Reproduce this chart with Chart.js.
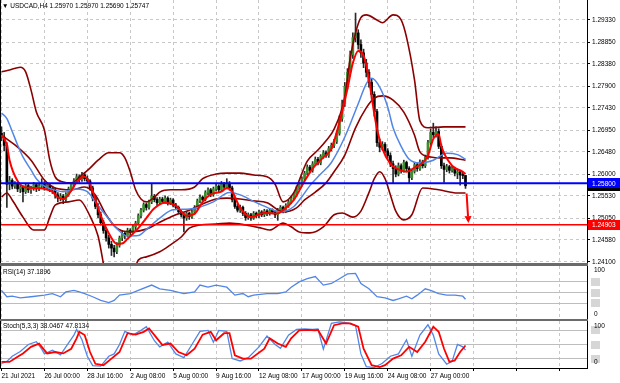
<!DOCTYPE html>
<html><head><meta charset="utf-8">
<script src="https://cdn.jsdelivr.net/npm/chart.js@4.4.1/dist/chart.umd.min.js"></script>
<style>
body{margin:0;background:#fff;}
#wrap{position:relative;width:620px;height:383px;overflow:hidden;background:#fff;font-family:"Liberation Sans",Arial,sans-serif;}
canvas{position:absolute;left:0;display:block;}
.lbl{position:absolute;font-size:6.5px;color:#000;white-space:nowrap;line-height:8px;}
.sep{position:absolute;left:0;background:#6b6b6b;}
</style></head><body>
<div id="wrap">
<canvas id="cMain" width="620" height="266" style="top:0"></canvas>
<div class="sep" style="top:263px;height:3px;width:588px"></div>
<canvas id="cRsi" width="620" height="53" style="top:266px"></canvas>
<div class="sep" style="top:319px;height:2px;width:588px"></div>
<canvas id="cSto" width="620" height="62" style="top:321px"></canvas>
<div class="lbl" id="tMain" style="left:2px;top:2px"></div>
<div class="lbl" id="tRsi" style="left:3px;top:268px"></div>
<div class="lbl" id="tSto" style="left:3px;top:322px"></div>
<div class="lbl" id="rsiTop" style="left:594px;top:266px"></div>
<div class="lbl" id="rsiBot" style="left:594px;top:310px"></div>
<div class="lbl" id="stoTop" style="left:594px;top:322px"></div>
<div class="lbl" id="stoBot" style="left:594px;top:358px"></div>
</div>
<script>
// ---------------- DATA ----------------
const mainTitle = '\u25BC USDCAD,H4 1.25970 1.25970 1.25690 1.25747';
const rsiTitle = 'RSI(14) 37.1896';
const stochTitle = 'Stoch(5,3,3) 38.0467 47.8134';
const panelTopLabel = '100';
const panelBotLabel = '0';

// H4 candles [open, high, low, close], bar index = position in array
const ohlc = [
[1.2688,1.2702,1.2672,1.2680],[1.2680,1.2690,1.2650,1.2662],[1.2662,1.2668,1.2528,1.2578],[1.2578,1.2595,1.2566,1.2586],
[1.2586,1.2590,1.2568,1.2574],[1.2574,1.2584,1.2569,1.2580],[1.2580,1.2582,1.2562,1.2568],[1.2568,1.2578,1.2560,1.2572],
[1.2572,1.2575,1.2540,1.2562],[1.2562,1.2580,1.2558,1.2575],[1.2575,1.2578,1.2560,1.2566],[1.2566,1.2574,1.2558,1.2570],
[1.2570,1.2582,1.2565,1.2577],[1.2577,1.2580,1.2562,1.2568],[1.2568,1.2579,1.2564,1.2574],[1.2574,1.2590,1.2570,1.2580],
[1.2580,1.2584,1.2565,1.2571],[1.2571,1.2582,1.2567,1.2576],[1.2576,1.2580,1.2562,1.2569],[1.2569,1.2574,1.2558,1.2566],
[1.2566,1.2570,1.2548,1.2555],[1.2555,1.2560,1.2540,1.2548],[1.2548,1.2558,1.2542,1.2552],[1.2552,1.2556,1.2536,1.2545],
[1.2545,1.2560,1.2541,1.2556],[1.2556,1.2572,1.2552,1.2568],[1.2568,1.2582,1.2563,1.2578],[1.2578,1.2590,1.2572,1.2585],
[1.2585,1.2600,1.2580,1.2594],[1.2594,1.2598,1.2582,1.2588],[1.2588,1.2604,1.2584,1.2598],[1.2598,1.2602,1.2585,1.2590],
[1.2590,1.2596,1.2580,1.2585],[1.2585,1.2588,1.2565,1.2570],[1.2570,1.2574,1.2542,1.2548],[1.2548,1.2552,1.2525,1.2530],
[1.2530,1.2536,1.2506,1.2512],[1.2512,1.2518,1.2490,1.2495],[1.2495,1.2500,1.2472,1.2478],[1.2478,1.2484,1.2455,1.2462],
[1.2462,1.2468,1.2440,1.2448],[1.2448,1.2455,1.2424,1.2440],[1.2440,1.2446,1.2421,1.2432],[1.2432,1.2452,1.2428,1.2446],
[1.2446,1.2466,1.2442,1.2462],[1.2462,1.2478,1.2456,1.2472],[1.2472,1.2476,1.2460,1.2468],[1.2468,1.2483,1.2464,1.2478],
[1.2478,1.2482,1.2466,1.2474],[1.2474,1.2490,1.2470,1.2486],[1.2486,1.2498,1.2480,1.2494],[1.2494,1.2514,1.2490,1.2510],
[1.2510,1.2526,1.2505,1.2522],[1.2522,1.2538,1.2518,1.2534],[1.2534,1.2537,1.2522,1.2528],[1.2528,1.2544,1.2524,1.2540],
[1.2540,1.2578,1.2536,1.2552],[1.2552,1.2556,1.2540,1.2545],[1.2545,1.2549,1.2532,1.2538],[1.2538,1.2550,1.2534,1.2546],
[1.2546,1.2550,1.2536,1.2541],[1.2541,1.2553,1.2537,1.2548],[1.2548,1.2551,1.2533,1.2538],[1.2538,1.2548,1.2534,1.2544],
[1.2544,1.2547,1.2529,1.2533],[1.2533,1.2537,1.2523,1.2528],[1.2528,1.2531,1.2514,1.2519],[1.2519,1.2523,1.2507,1.2512],
[1.2512,1.2516,1.2475,1.2505],[1.2505,1.2519,1.2500,1.2515],[1.2515,1.2518,1.2502,1.2508],[1.2508,1.2522,1.2504,1.2518],
[1.2518,1.2532,1.2514,1.2528],[1.2528,1.2546,1.2524,1.2542],[1.2542,1.2555,1.2538,1.2550],[1.2550,1.2553,1.2540,1.2545],
[1.2545,1.2564,1.2542,1.2560],[1.2560,1.2570,1.2555,1.2566],[1.2566,1.2569,1.2551,1.2556],[1.2556,1.2572,1.2552,1.2568],
[1.2568,1.2580,1.2563,1.2574],[1.2574,1.2577,1.2562,1.2566],[1.2566,1.2584,1.2562,1.2578],[1.2578,1.2582,1.2567,1.2572],
[1.2572,1.2590,1.2568,1.2580],[1.2580,1.2584,1.2565,1.2570],[1.2570,1.2574,1.2540,1.2545],[1.2545,1.2549,1.2526,1.2530],
[1.2530,1.2535,1.2518,1.2522],[1.2522,1.2533,1.2517,1.2528],[1.2528,1.2531,1.2510,1.2515],[1.2515,1.2519,1.2500,1.2506],
[1.2506,1.2516,1.2502,1.2512],[1.2512,1.2515,1.2500,1.2505],[1.2505,1.2519,1.2502,1.2515],[1.2515,1.2518,1.2505,1.2510],
[1.2510,1.2522,1.2506,1.2518],[1.2518,1.2521,1.2508,1.2512],[1.2512,1.2524,1.2508,1.2520],[1.2520,1.2523,1.2510,1.2515],
[1.2515,1.2526,1.2511,1.2522],[1.2522,1.2525,1.2514,1.2518],[1.2518,1.2521,1.2506,1.2512],[1.2512,1.2526,1.2500,1.2522],
[1.2522,1.2532,1.2518,1.2528],[1.2528,1.2531,1.2516,1.2520],[1.2520,1.2536,1.2517,1.2532],[1.2532,1.2544,1.2528,1.2540],
[1.2540,1.2552,1.2536,1.2548],[1.2548,1.2560,1.2544,1.2556],[1.2556,1.2574,1.2552,1.2570],[1.2570,1.2582,1.2566,1.2578],
[1.2578,1.2594,1.2574,1.2590],[1.2590,1.2606,1.2586,1.2602],[1.2602,1.2620,1.2598,1.2615],[1.2615,1.2619,1.2603,1.2608],
[1.2608,1.2627,1.2604,1.2622],[1.2622,1.2637,1.2618,1.2632],[1.2632,1.2636,1.2620,1.2624],[1.2624,1.2642,1.2620,1.2638],
[1.2638,1.2651,1.2634,1.2646],[1.2646,1.2650,1.2636,1.2640],[1.2640,1.2660,1.2636,1.2655],[1.2655,1.2667,1.2650,1.2662],
[1.2662,1.2675,1.2657,1.2670],[1.2670,1.2693,1.2666,1.2688],[1.2688,1.2726,1.2684,1.2720],[1.2720,1.2760,1.2714,1.2752],
[1.2752,1.2798,1.2746,1.2790],[1.2790,1.2828,1.2784,1.2820],[1.2820,1.2866,1.2812,1.2858],[1.2858,1.2905,1.2850,1.2895],
[1.2895,1.2948,1.2886,1.2905],[1.2905,1.2912,1.2870,1.2880],[1.2880,1.2890,1.2852,1.2862],[1.2862,1.2870,1.2830,1.2840],
[1.2840,1.2848,1.2810,1.2820],[1.2820,1.2826,1.2788,1.2798],[1.2798,1.2805,1.2762,1.2772],[1.2772,1.2778,1.2725,1.2735],
[1.2735,1.2740,1.2660,1.2668],[1.2668,1.2676,1.2648,1.2658],[1.2658,1.2670,1.2652,1.2664],[1.2664,1.2668,1.2645,1.2650],
[1.2650,1.2655,1.2634,1.2640],[1.2640,1.2646,1.2616,1.2622],[1.2622,1.2628,1.2581,1.2612],[1.2612,1.2618,1.2594,1.2600],
[1.2600,1.2624,1.2596,1.2618],[1.2618,1.2622,1.2602,1.2608],[1.2608,1.2630,1.2604,1.2625],[1.2625,1.2628,1.2606,1.2612],
[1.2612,1.2616,1.2580,1.2592],[1.2592,1.2610,1.2588,1.2606],[1.2606,1.2625,1.2602,1.2620],[1.2620,1.2624,1.2606,1.2612],
[1.2612,1.2631,1.2608,1.2626],[1.2626,1.2630,1.2613,1.2618],[1.2618,1.2641,1.2614,1.2636],[1.2636,1.2673,1.2632,1.2668],
[1.2668,1.2697,1.2663,1.2690],[1.2690,1.2710,1.2678,1.2685],[1.2685,1.2702,1.2680,1.2692],[1.2692,1.2698,1.2655,1.2660],
[1.2660,1.2665,1.2612,1.2618],[1.2618,1.2624,1.2582,1.2610],[1.2610,1.2621,1.2605,1.2616],[1.2616,1.2619,1.2602,1.2608],
[1.2608,1.2617,1.2604,1.2612],[1.2612,1.2615,1.2596,1.2602],[1.2602,1.2610,1.2590,1.2605],[1.2605,1.2608,1.2576,1.2598],
[1.2598,1.2604,1.2590,1.2597],[1.25970,1.25970,1.25690,1.25747]
];

// indicator lines: [bar, value]
const redMA = [[0,1.2684],[2,1.2663],[3,1.2630],[6,1.2585],[9,1.2571],[13,1.2570],[16,1.2568],[19,1.2562],[21,1.2550],[23,1.2546],[26,1.2564],[28,1.2582],[31,1.2594],[33,1.2578],[35,1.2545],[37,1.2510],[41,1.2462],[43,1.2449],[45,1.2450],[47,1.2460],[51,1.2483],[54,1.2505],[57,1.2526],[61,1.2538],[65,1.2532],[69,1.2510],[72,1.2514],[75,1.2540],[78,1.2556],[82,1.2562],[84,1.2570],[86,1.2562],[89,1.2527],[93,1.2507],[98,1.2516],[103,1.2515],[105,1.2522],[109,1.2544],[113,1.2585],[116,1.2612],[120,1.2636],[123,1.2655],[126,1.2712],[129,1.2785],[131,1.2840],[133,1.2866],[135,1.2856],[137,1.2805],[139,1.2730],[140,1.2698],[142,1.2655],[145,1.2622],[148,1.2610],[151,1.2605],[154,1.2614],[156,1.2620],[159,1.2640],[161,1.2676],[163,1.2686],[164,1.2660],[168,1.2618],[172,1.2605],[173,1.2600]];
const blueMA = [[0,1.2732],[2,1.2720],[4,1.2692],[6,1.2663],[8,1.2637],[11,1.2609],[13,1.2590],[16,1.2574],[19,1.2567],[23,1.2562],[28,1.2568],[32,1.2562],[36,1.2532],[40,1.2503],[43,1.2482],[47,1.2466],[51,1.2467],[54,1.2480],[59,1.2505],[64,1.2523],[69,1.2524],[74,1.2529],[79,1.2540],[85,1.2560],[89,1.2555],[94,1.2541],[99,1.2528],[104,1.2518],[109,1.2530],[112,1.2551],[115,1.2575],[119,1.2600],[123,1.2625],[128,1.2680],[133,1.2752],[136,1.2795],[138,1.2807],[141,1.2788],[144,1.2745],[146,1.2700],[149,1.2660],[152,1.2632],[156,1.2624],[161,1.2630],[166,1.2645],[170,1.2642],[173,1.2632]];
const bbUpper = [[0,1.2821],[3,1.2825],[7,1.2831],[9,1.2821],[11,1.2782],[13,1.2734],[16,1.2695],[18,1.2630],[20,1.2594],[23,1.2583],[26,1.2581],[30,1.2598],[33,1.2613],[36,1.2630],[40,1.2646],[44,1.2646],[46,1.2635],[48,1.2605],[50,1.2566],[52,1.2546],[54,1.2540],[57,1.2550],[59,1.2561],[63,1.2566],[67,1.2566],[72,1.2572],[75,1.2590],[80,1.2600],[84,1.2602],[89,1.2602],[94,1.2598],[99,1.2594],[102,1.2578],[105,1.2540],[109,1.2560],[114,1.2628],[118,1.2652],[121,1.2672],[124,1.2697],[128,1.2767],[130,1.2850],[132,1.2905],[134,1.2938],[136,1.2944],[140,1.2933],[142,1.2927],[146,1.2944],[149,1.2933],[151,1.2896],[154,1.2803],[156,1.2715],[159,1.2700],[165,1.2702],[173,1.2702]];
const bbMiddle = [[0,1.2684],[5,1.2663],[11,1.2630],[16,1.2587],[20,1.2570],[26,1.2566],[31,1.2572],[35,1.2555],[39,1.2512],[43,1.2483],[48,1.2475],[54,1.2481],[59,1.2496],[65,1.2512],[70,1.2522],[76,1.2538],[80,1.2546],[84,1.2548],[89,1.2546],[94,1.2542],[99,1.2538],[105,1.2518],[110,1.2527],[113,1.2544],[117,1.2561],[121,1.2581],[124,1.2605],[128,1.2641],[132,1.2700],[136,1.2743],[139,1.2764],[142,1.2769],[146,1.2760],[150,1.2734],[154,1.2684],[156,1.2648],[160,1.2637],[164,1.2635],[167,1.2635],[173,1.2630]];
const bbLower = [[0,1.2550],[2,1.2559],[4,1.2544],[8,1.2507],[12,1.2479],[16,1.2479],[18,1.2507],[20,1.2533],[25,1.2540],[29,1.2544],[33,1.2509],[36,1.2466],[39,1.2378],[42,1.2330],[46,1.2324],[49,1.2380],[51,1.2414],[54,1.2421],[59,1.2432],[63,1.2447],[67,1.2464],[70,1.2483],[74,1.2490],[80,1.2492],[85,1.2494],[91,1.2490],[97,1.2483],[100,1.2479],[105,1.2494],[108,1.2486],[111,1.2475],[115,1.2473],[120,1.2486],[124,1.2512],[127,1.2516],[131,1.2507],[134,1.2520],[137,1.2560],[139,1.2590],[141,1.2605],[143,1.2590],[145,1.2555],[147,1.2520],[150,1.2501],[153,1.2512],[157,1.2570],[163,1.2566],[170,1.2559],[173,1.2559]];

const levelPrices = [1.25800, 1.24903];
const tagValues = [1.25747, 1.25800, 1.24903];
const arrowPath = [[173.4, 1.2558], [174.1, 1.2494]];

const priceTicks = [1.24100,1.24580,1.25050,1.25530,1.26000,1.26480,1.26950,1.27430,1.27900,1.28380,1.28850,1.29330];
const xTickBars = [0,16,32,48,64,80,96,112,128,144,160,176,192,208];
const xTickLabels = ['21 Jul 2021','26 Jul 00:00','28 Jul 16:00','2 Aug 08:00','5 Aug 00:00','9 Aug 16:00','12 Aug 08:00','17 Aug 00:00','19 Aug 16:00','24 Aug 08:00','27 Aug 00:00','','',''];

const rsiBars = [0,2,4,7,11,16,19,22,24,27,29,31,34,37,40,42,44,48,51,56,59,63,68,72,74,77,80,84,87,90,92,94,99,103,106,108,111,114,117,120,123,126,129,132,134,137,140,143,146,148,151,153,155,158,160,163,166,169,172,173];
const rsiVals = [54,42,43,40,42,45,48,42,51,54,51,48,42,35,31,35,45,48,54,64,57,54,48,51,64,60,64,60,45,48,42,45,48,48,51,60,70,76,80,64,67,76,85,86,67,57,42,40,35,38,43,38,45,57,54,48,45,45,43,37.19];
const rsiLevels = [30,50,70];

const stochMainBars = [0,2,4,7,10,13,15,16,19,22,24,27,28,30,32,34,37,40,42,44,46,49,52,54,57,59,62,65,68,71,74,77,79,81,84,86,89,92,96,99,102,104,107,110,113,116,118,120,123,126,129,132,134,136,139,142,145,148,151,153,156,159,161,163,166,168,170,172,173];
const stochMainVals = [10,14,25,35,50,56,40,30,38,28,45,70,82,60,25,5,4,25,30,50,78,70,80,88,58,45,55,30,22,50,78,80,55,80,78,20,15,22,45,68,50,42,70,82,83,82,83,40,95,98,96,90,30,3,1,10,25,30,60,25,70,92,70,30,8,14,50,45,38.05];
const stochSigBars = [0,3,6,8,11,14,17,20,23,26,28,29,31,33,35,38,41,44,47,50,53,55,58,60,63,66,69,72,75,78,80,83,85,87,90,93,98,100,103,106,108,111,114,117,118,121,124,127,130,133,135,138,141,143,146,149,152,155,158,161,163,165,167,169,171,173];
const stochSigVals = [13,13,24,31,45,52,31,34,31,41,63,77,70,34,9,6,20,34,74,71,77,84,63,49,52,34,27,41,71,77,59,74,74,27,20,20,41,63,52,45,63,80,81,80,81,52,91,95,95,88,41,6,2,6,20,27,45,34,56,88,77,41,13,16,34,47.81];
const stochLevels = [20,50,80];

// ---------------- STYLE ----------------
const X_MIN = -0.56, X_MAX = 218.3;
const Y_MIN = 1.24078, Y_MAX = 1.29762;
const FONT = '"Liberation Sans", Arial, sans-serif';
const UP = '#3a8f2a', DOWN = '#000000', WICK = '#2a2a2a';
const BB = '#8b0000', BLUE = '#5286e6', RED = '#ff0000';
const TAG_BG = ['#000000', '#0000ff', '#ff0000'];
const GRID = '#c8c8c8';

Chart.defaults.font.family = FONT;
Chart.defaults.font.size = 6.5;
Chart.defaults.color = '#000';

document.getElementById('tMain').textContent = mainTitle;
document.getElementById('tRsi').textContent = rsiTitle;
document.getElementById('tSto').textContent = stochTitle;
['rsiTop','stoTop'].forEach(id => document.getElementById(id).textContent = panelTopLabel);
['rsiBot','stoBot'].forEach(id => document.getElementById(id).textContent = panelBotLabel);

const pts = arr => arr.map(p => ({x: p[0], y: p[1]}));
const zip = (b, v) => b.map((x, k) => ({x, y: v[k]}));

function xScale(withLabels) {
  return {
    type: 'linear', min: X_MIN, max: X_MAX, offset: false, bounds: 'data',
    afterBuildTicks: s => { s.ticks = xTickBars.map(v => ({value: v})); },
    afterFit: s => { s.height = withLabels ? 15 : 0; s.paddingLeft = 0; s.paddingRight = 0; },
    ticks: withLabels ? {display: true, align: 'start', maxRotation: 0, minRotation: 0, autoSkip: false, padding: 1,
      callback: (v, i) => xTickLabels[i]} : {display: false},
    grid: {color: GRID, lineWidth: 1, offset: false, drawTicks: withLabels, tickLength: 3, tickColor: '#000', tickBorderDash: []},
    border: {display: withLabels, color: '#000', width: 1, dash: [3, 3]}
  };
}

const frameLeft = {id: 'frameLeft', afterDraw(chart) {
  const {ctx, chartArea: a} = chart;
  ctx.save(); ctx.strokeStyle = '#000'; ctx.lineWidth = 1;
  ctx.beginPath(); ctx.moveTo(a.left + 0.5, a.top); ctx.lineTo(a.left + 0.5, a.bottom); ctx.stroke();
  ctx.restore();
}};

const mainDecor = {id: 'mainDecor', afterDraw(chart) {
  const {ctx, chartArea: a, scales: {x, y}} = chart;
  ctx.save();
  const x1 = x.getPixelForValue(arrowPath[0][0]), y1 = y.getPixelForValue(arrowPath[0][1]);
  const x2 = x.getPixelForValue(arrowPath[1][0]), y2 = y.getPixelForValue(arrowPath[1][1]);
  const ang = Math.atan2(y2 - y1, x2 - x1), L = 7, W = 3.5;
  const bx = x2 - L * Math.cos(ang), by = y2 - L * Math.sin(ang);
  ctx.strokeStyle = RED; ctx.fillStyle = RED; ctx.lineWidth = 2;
  ctx.beginPath(); ctx.moveTo(x1, y1); ctx.lineTo(bx, by); ctx.stroke();
  ctx.beginPath(); ctx.moveTo(x2, y2);
  ctx.lineTo(bx + W * Math.sin(ang), by - W * Math.cos(ang));
  ctx.lineTo(bx - W * Math.sin(ang), by + W * Math.cos(ang));
  ctx.closePath(); ctx.fill();
  ctx.font = '6.5px ' + FONT; ctx.textBaseline = 'middle'; ctx.textAlign = 'left';
  tagValues.forEach((v, k) => {
    const py = y.getPixelForValue(v);
    ctx.fillStyle = TAG_BG[k];
    ctx.fillRect(a.right + 1, Math.round(py) - 5, 33, 10);
    ctx.fillStyle = '#fff';
    ctx.fillText(v.toFixed(5), a.right + 5, py + 0.5);
  });
  ctx.restore();
}};

function levelBoxes(levels) {
  return {id: 'levelBoxes', afterDraw(chart) {
    const {ctx, chartArea: a, scales: {y}} = chart;
    ctx.save(); ctx.fillStyle = '#d6d6d6';
    levels.forEach(v => { const py = y.getPixelForValue(v); ctx.fillRect(a.right + 4, Math.round(py) - 4, 9, 8); });
    ctx.restore();
  }};
}

const common = {responsive: false, animation: false, events: [],
  layout: {padding: 0, autoPadding: false},
  plugins: {legend: {display: false}, tooltip: {enabled: false}}};

const lineDs = (data, color, width, order, smooth) => ({type: 'line', data, borderColor: color, borderWidth: width,
  pointRadius: 0, fill: false, order, tension: smooth ? 0.4 : 0, cubicInterpolationMode: smooth ? 'monotone' : 'default'});

// ---------------- MAIN PRICE PANEL ----------------
new Chart(document.getElementById('cMain'), {
  type: 'line',
  data: {datasets: [
    lineDs([{x: X_MIN, y: levelPrices[0]}, {x: X_MAX, y: levelPrices[0]}], '#0000ff', 2, 0, false),
    lineDs([{x: X_MIN, y: levelPrices[1]}, {x: X_MAX, y: levelPrices[1]}], RED, 1.5, 0, false),
    lineDs(pts(redMA), RED, 2, 1, true),
    lineDs(pts(blueMA), BLUE, 1.5, 2, true),
    lineDs(pts(bbUpper), BB, 1.6, 3, true),
    lineDs(pts(bbMiddle), BB, 1.6, 3, true),
    lineDs(pts(bbLower), BB, 1.6, 3, true),
    {type: 'bar', order: 5, grouped: false, barThickness: 2, minBarLength: 1, borderWidth: 0,
      data: ohlc.map((c, i) => ({x: i, y: [c[0], c[3]]})),
      backgroundColor: ohlc.map(c => c[3] >= c[0] ? UP : DOWN)},
    {type: 'bar', order: 6, grouped: false, barThickness: 1, borderWidth: 0,
      data: ohlc.map((c, i) => ({x: i, y: [c[2], c[1]]})),
      backgroundColor: WICK}
  ]},
  options: Object.assign({}, common, {
    layout: {padding: {left: 0, right: 0, top: 0, bottom: 3}, autoPadding: false},
    scales: {
      x: xScale(false),
      y: {position: 'right', min: Y_MIN, max: Y_MAX, bounds: 'data',
        afterBuildTicks: s => { s.ticks = priceTicks.map(v => ({value: v})); },
        afterFit: s => { s.width = 33; s.paddingTop = 0; s.paddingBottom = 0; },
        ticks: {callback: v => Number(v).toFixed(5), padding: 2, autoSkip: false, color: '#000'},
        grid: {color: GRID, lineWidth: 1, drawTicks: true, tickLength: 3, tickColor: '#000', tickBorderDash: []},
        border: {display: true, color: '#000', width: 1, dash: [3, 3]}}
    }
  }),
  plugins: [frameLeft, mainDecor]
});

// ---------------- RSI PANEL ----------------
new Chart(document.getElementById('cRsi'), {
  type: 'line',
  data: {datasets: [lineDs(zip(rsiBars, rsiVals), BLUE, 1.3, 0, false)]},
  options: Object.assign({}, common, {
    scales: {
      x: xScale(false),
      y: {position: 'right', min: 0, max: 100, bounds: 'data',
        afterBuildTicks: s => { s.ticks = rsiLevels.map(v => ({value: v})); },
        afterFit: s => { s.width = 33; s.paddingTop = 0; s.paddingBottom = 0; },
        ticks: {display: false},
        grid: {color: '#bdbdbd', drawTicks: false},
        border: {display: true, color: '#000', width: 1}}
    }
  }),
  plugins: [frameLeft, levelBoxes(rsiLevels)]
});

// ---------------- STOCHASTIC PANEL ----------------
new Chart(document.getElementById('cSto'), {
  type: 'line',
  data: {datasets: [
    lineDs(zip(stochSigBars, stochSigVals), RED, 1.8, 0, false),
    lineDs(zip(stochMainBars, stochMainVals), BLUE, 1.3, 1, false)
  ]},
  options: Object.assign({}, common, {
    scales: {
      x: xScale(true),
      y: {position: 'right', min: 0, max: 100, bounds: 'data',
        afterBuildTicks: s => { s.ticks = stochLevels.map(v => ({value: v})); },
        afterFit: s => { s.width = 33; s.paddingTop = 0; s.paddingBottom = 0; },
        ticks: {display: false},
        grid: {color: '#bdbdbd', drawTicks: false},
        border: {display: true, color: '#000', width: 1}}
    }
  }),
  plugins: [frameLeft, levelBoxes(stochLevels)]
});
</script>
</body></html>
